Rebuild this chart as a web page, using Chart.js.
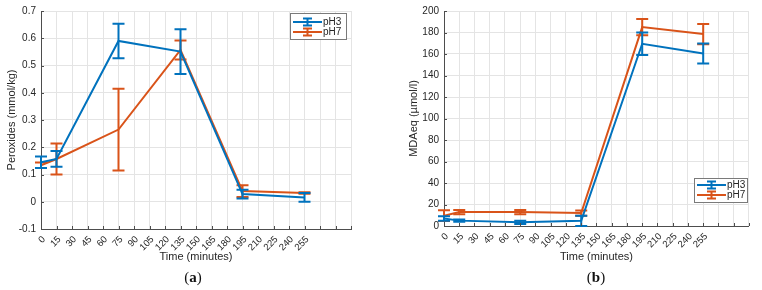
<!DOCTYPE html>
<html>
<head>
<meta charset="utf-8">
<script src="https://cdn.jsdelivr.net/npm/chart.js@4.4.0/dist/chart.umd.min.js"></script>
<style>
body { margin:0; background:#fff; width:762px; height:290px; overflow:hidden; position:relative; }
.box { position:absolute; top:0; width:381px; height:270px; }
.cap { position:absolute; top:268px; width:40px; margin-left:-20px; text-align:center;
       font-family:"Liberation Serif", serif; font-size:15px; color:#111; line-height:18px; }
</style>
</head>
<body>
<div class="box" style="left:0"><canvas id="chartA" width="381" height="270"></canvas></div>
<div class="box" style="left:381px"><canvas id="chartB" width="381" height="270"></canvas></div>
<div class="cap" style="left:193px">(<b>a</b>)</div>
<div class="cap" style="left:596px">(<b>b</b>)</div>
<script>
// sampling times (minutes)
var times = [0, 15, 75, 135, 195, 255];

// x grid / tick labels
var xGrid = [0, 15, 30, 45, 60, 75, 90, 105, 120, 135, 150, 165, 180, 195, 210, 225, 240, 255, 270, 285, 300];
var xLabels = ['0', '15', '30', '45', '60', '75', '90', '105', '120', '135', '150', '165', '180', '195', '210', '225', '240', '255'];

// (a) peroxides
var peroxTicks = [-0.1, 0, 0.1, 0.2, 0.3, 0.4, 0.5, 0.6, 0.7];
var peroxPH3 = [0.145, 0.157, 0.590, 0.551, 0.028, 0.016];
var peroxPH3Err = [0.021, 0.029, 0.063, 0.082, 0.016, 0.016];
var peroxPH7 = [0.134, 0.157, 0.265, 0.557, 0.039, 0.032];
var peroxPH7Err = [0.010, 0.057, 0.150, 0.035, 0.022, 0.003];

// (b) MDA equivalents
var mdaTicks = [0, 20, 40, 60, 80, 100, 120, 140, 160, 180, 200];
var mdaPH3 = [7, 5, 3.4, 4.8, 169.5, 160.5];
var mdaPH3Err = [2, 1, 1.5, 4.8, 10.5, 9.3];
var mdaPH7 = [9.6, 13, 13, 12, 185, 178.5];
var mdaPH7Err = [5, 2, 2, 2.5, 7.5, 9.5];

const blue = '#0072BD';
const orange = '#D95319';

Chart.defaults.font.family = 'Arial, "Liberation Sans", Helvetica, sans-serif';
Chart.defaults.font.size = 10;
Chart.defaults.color = '#262626';

function pts(vals) {
	return times.map(function(t, i) { return {x: t, y: vals[i]}; });
}

// vertical error bars with caps, drawn right after each series
const errorBars = {
	id: 'errorBars',
	afterDatasetDraw(chart, args) {
		const ds = chart.data.datasets[args.index];
		const sx = chart.scales.x, sy = chart.scales.y;
		const ctx = chart.ctx;
		ctx.save();
		ctx.strokeStyle = ds.borderColor;
		ctx.lineWidth = 2;
		ds.data.forEach(function(p, i) {
			const px = sx.getPixelForValue(p.x);
			const top = sy.getPixelForValue(p.y + ds.err[i]);
			const bot = sy.getPixelForValue(p.y - ds.err[i]);
			ctx.beginPath();
			ctx.moveTo(px, top); ctx.lineTo(px, bot);
			ctx.moveTo(px - 6, top); ctx.lineTo(px + 6, top);
			ctx.moveTo(px - 6, bot); ctx.lineTo(px + 6, bot);
			ctx.stroke();
		});
		ctx.restore();
	}
};

// small inward tick marks like matlab
const innerTicks = {
	id: 'innerTicks',
	afterDraw(chart) {
		const ctx = chart.ctx, a = chart.chartArea;
		const sx = chart.scales.x, sy = chart.scales.y;
		ctx.save();
		ctx.strokeStyle = '#4d4d4d';
		ctx.lineWidth = 1;
		ctx.beginPath();
		sx.ticks.forEach(function(t) {
			const px = Math.round(sx.getPixelForValue(t.value)) + 0.5;
			ctx.moveTo(px, a.bottom); ctx.lineTo(px, a.bottom - 3);
		});
		sy.ticks.forEach(function(t) {
			const py = Math.round(sy.getPixelForValue(t.value)) + 0.5;
			ctx.moveTo(a.left, py); ctx.lineTo(a.left + 3, py);
		});
		ctx.stroke();
		ctx.restore();
	}
};

// boxed legend inside the plot, matlab style
const boxLegend = {
	id: 'boxLegend',
	afterDraw(chart, args, opts) {
		const ctx = chart.ctx;
		ctx.save();
		ctx.fillStyle = '#fff';
		ctx.fillRect(opts.left, opts.top, opts.width, opts.height);
		ctx.strokeStyle = '#7a7a7a';
		ctx.lineWidth = 1;
		ctx.strokeRect(opts.left + 0.5, opts.top + 0.5, opts.width, opts.height);
		chart.data.datasets.forEach(function(ds, i) {
			const y = opts.top + opts.first + i * opts.gap;
			const x0 = opts.left + 3, x1 = opts.left + 32, xm = (x0 + x1) / 2;
			ctx.strokeStyle = ds.borderColor;
			ctx.lineWidth = 2;
			ctx.beginPath();
			ctx.moveTo(x0, y); ctx.lineTo(x1, y);
			ctx.moveTo(xm, y - 3.5); ctx.lineTo(xm, y + 3.5);
			ctx.moveTo(xm - 4.5, y - 3.5); ctx.lineTo(xm + 4.5, y - 3.5);
			ctx.moveTo(xm - 4.5, y + 3.5); ctx.lineTo(xm + 4.5, y + 3.5);
			ctx.stroke();
			ctx.fillStyle = '#262626';
			ctx.font = '10px Arial, "Liberation Sans", sans-serif';
			ctx.textBaseline = 'middle';
			ctx.fillText(ds.label, x1 + 1, y + 0.5);
		});
		ctx.restore();
	}
};

function makeChart(id, d3, e3, d7, e7, yTicks, yTitle, yWidth, yTitlePad, xHeight, pad, legend) {
	return new Chart(document.getElementById(id), {
		type: 'line',
		data: {
			datasets: [
				{ label: 'pH3', data: pts(d3), err: e3, borderColor: blue, borderWidth: 2, pointRadius: 0, fill: false, tension: 0 },
				{ label: 'pH7', data: pts(d7), err: e7, borderColor: orange, borderWidth: 2, pointRadius: 0, fill: false, tension: 0 }
			]
		},
		options: {
			responsive: false,
			animation: false,
			layout: { padding: pad },
			plugins: { legend: { display: false }, tooltip: { enabled: false }, boxLegend: legend },
			scales: {
				x: {
					type: 'linear', min: 0, max: 300,
					afterBuildTicks: function(s) { s.ticks = xGrid.map(function(v) { return {value: v}; }); },
					afterFit: function(s) { s.height = xHeight; },
					ticks: { autoSkip: false, minRotation: 45, maxRotation: 45, padding: 5, labelOffset: 3,
						font: { size: 9.5 },
						callback: function(v, i) { return xLabels[i] || ''; } },
					grid: { color: '#e4e4e4', drawTicks: false },
					border: { color: '#4d4d4d', width: 1 },
					title: { display: true, text: 'Time (minutes)', font: { size: 11 }, padding: { top: 2, bottom: 6 } }
				},
				y: {
					min: yTicks[0], max: yTicks[yTicks.length - 1],
					afterBuildTicks: function(s) { s.ticks = yTicks.map(function(v) { return {value: v}; }); },
					afterFit: function(s) { s.width = yWidth; },
					ticks: { padding: 5, callback: function(v, i) { return String(yTicks[i]); } },
					grid: { color: '#e4e4e4', drawTicks: false },
					border: { color: '#4d4d4d', width: 1 },
					title: { display: true, text: yTitle, font: { size: 11 }, padding: { top: yTitlePad, bottom: 0 } }
				}
			}
		},
		plugins: [errorBars, innerTicks, boxLegend]
	});
}

makeChart('chartA', peroxPH3, peroxPH3Err, peroxPH7, peroxPH7Err, peroxTicks, 'Peroxides (mmol/kg)',
	41, 5, 41, { top: 8, right: 30, left: 0, bottom: 0 },
	{ left: 290, top: 13, width: 56, height: 26, first: 9, gap: 10 });

makeChart('chartB', mdaPH3, mdaPH3Err, mdaPH7, mdaPH7Err, mdaTicks, 'MDAeq (\u00b5mol/l)',
	63, 26, 44, { top: 7, right: 9, left: 0, bottom: 0 },
	{ left: 313, top: 178, width: 53, height: 24, first: 7, gap: 10 });
</script>
</body>
</html>
